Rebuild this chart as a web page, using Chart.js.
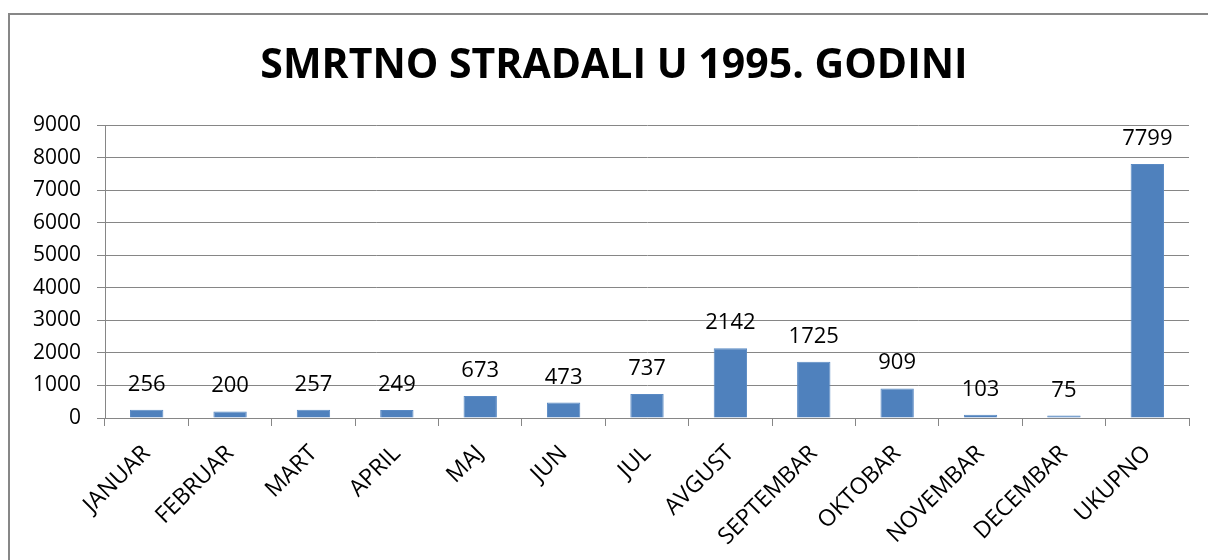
<!DOCTYPE html>
<html>
<head>
<meta charset="utf-8">
<script src="https://cdn.jsdelivr.net/npm/chart.js@4.4.0/dist/chart.umd.min.js"></script>
<style>
  body { margin: 0; background: #fff; }
  #wrap { width: 1208px; height: 560px; }
</style>
</head>
<body>
<div id="wrap"><canvas id="barStradali"></canvas></div>
<script>
// podaci
const naslov = 'SMRTNO STRADALI U 1995. GODINI';
const mjeseci = ['JANUAR', 'FEBRUAR', 'MART', 'APRIL', 'MAJ', 'JUN', 'JUL', 'AVGUST',
    'SEPTEMBAR', 'OKTOBAR', 'NOVEMBAR', 'DECEMBAR', 'UKUPNO'];
const stradali = [256, 200, 257, 249, 673, 473, 737, 2142, 1725, 909, 103, 75, 7799];
const yTicks = [0, 1000, 2000, 3000, 4000, 5000, 6000, 7000, 8000, 9000];

const fontFam = "'Open Sans', 'Noto Sans', sans-serif";

// okvir i naslov
const okvir = {
    id: 'okvir',
    beforeDraw(chart) {
        const ctx = chart.ctx;
        ctx.save();
        ctx.fillStyle = '#fff';
        ctx.fillRect(0, 0, chart.width, chart.height);
        ctx.strokeStyle = '#878787';
        ctx.lineWidth = 2;
        ctx.beginPath();
        ctx.moveTo(9, chart.height);
        ctx.lineTo(9, 14);
        ctx.lineTo(chart.width, 14);
        ctx.stroke();
        ctx.font = 'bold 41px ' + fontFam;
        ctx.fillStyle = '#000';
        ctx.textAlign = 'center';
        ctx.textBaseline = 'middle';
        ctx.fillText(naslov, 614, 66);
        ctx.restore();
    }
};

// vrijednosti iznad stubica
const oznake = {
    id: 'oznake',
    afterDatasetsDraw(chart) {
        const ctx = chart.ctx;
        const meta = chart.getDatasetMeta(0);
        ctx.save();
        ctx.font = '22px ' + fontFam;
        ctx.fillStyle = '#000';
        ctx.textAlign = 'center';
        ctx.textBaseline = 'alphabetic';
        meta.data.forEach(function (bar, i) {
            ctx.fillText(String(stradali[i]), bar.x, bar.y - 19);
        });
        ctx.restore();
    }
};

const dadosStradali = {
    labels: mjeseci,
    datasets: [{
        label: 'Smrtno stradali',
        data: stradali,
        backgroundColor: '#4F81BD',
        borderColor: '#5A8AC4',
        borderWidth: 1,
        barPercentage: 0.4,
        categoryPercentage: 1.0
    }]
};

const configStradali = {
    type: 'bar',
    data: dadosStradali,
    options: {
        responsive: false,
        animation: false,
        layout: { padding: { left: 0, right: 19, top: 125, bottom: 0 } },
        scales: {
            x: {
                offset: true,
                grid: {
                    offset: true,
                    drawOnChartArea: false,
                    color: '#868686',
                    tickLength: 8,
                    tickColor: '#868686'
                },
                border: { color: '#868686', width: 1 },
                ticks: {
                    color: '#000',
                    font: { size: 23, family: fontFam },
                    maxRotation: 45,
                    minRotation: 45,
                    autoSkip: false,
                    padding: 14
                },
                afterFit: function (scale) { scale.height = 142; }
            },
            y: {
                min: 0,
                max: 9000,
                afterBuildTicks: function (scale) {
                    scale.ticks = yTicks.map(function (v) { return { value: v }; });
                },
                grid: {
                    color: '#868686',
                    tickLength: 8,
                    tickColor: '#868686'
                },
                border: { color: '#868686', width: 1 },
                ticks: {
                    color: '#000',
                    font: { size: 21, family: fontFam },
                    padding: 16,
                    callback: function (v) { return String(v); }
                },
                afterFit: function (scale) { scale.width = 105; }
            }
        },
        plugins: {
            legend: { display: false },
            tooltip: { enabled: false },
            title: { display: false }
        }
    },
    plugins: [okvir, oznake]
};

const cvs = document.getElementById('barStradali');
cvs.width = 1208;
cvs.height = 560;
new Chart(cvs.getContext('2d'), configStradali);
</script>
</body>
</html>
